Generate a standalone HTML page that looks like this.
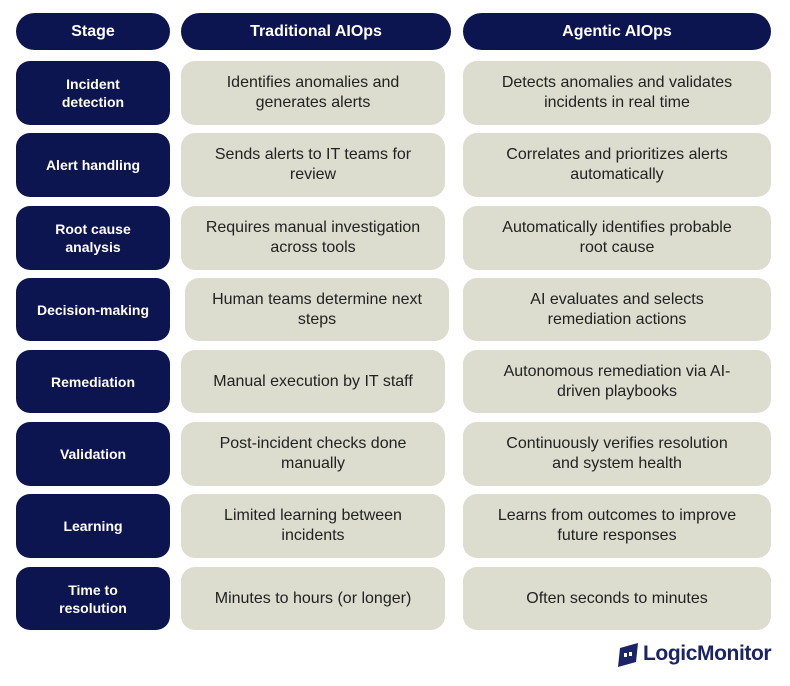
<!DOCTYPE html>
<html><head><meta charset="utf-8"><style>
body{margin:0;width:790px;height:686px;background:#fff;position:relative;font-family:"Liberation Sans",sans-serif;overflow:hidden}
.b{position:absolute;display:flex;align-items:center;justify-content:center;text-align:center;box-sizing:border-box}
.n{background:#0d1550;color:#fff;font-weight:bold;border-radius:14px;font-size:14px;line-height:18px}
.h{border-radius:19px;font-size:16px}
.g{background:#dcdccf;color:#222;border-radius:14px;font-size:16px;line-height:20px;padding:0 4px;white-space:nowrap}
</style></head><body>
<div class="b n h" style="left:16px;top:13px;width:154px;height:37px">Stage</div>
<div class="b n h" style="left:181px;top:13px;width:270px;height:37px">Traditional AIOps</div>
<div class="b n h" style="left:463px;top:13px;width:308px;height:37px">Agentic AIOps</div>

<div class="b n" style="left:16px;top:61px;width:154px;height:64px">Incident<br>detection</div>
<div class="b g" style="left:181px;top:61px;width:264px;height:64px">Identifies anomalies and<br>generates alerts</div>
<div class="b g" style="left:463px;top:61px;width:308px;height:64px">Detects anomalies and validates<br>incidents in real time</div>

<div class="b n" style="left:16px;top:133px;width:154px;height:64px">Alert handling</div>
<div class="b g" style="left:181px;top:133px;width:264px;height:64px">Sends alerts to IT teams for<br>review</div>
<div class="b g" style="left:463px;top:133px;width:308px;height:64px">Correlates and prioritizes alerts<br>automatically</div>

<div class="b n" style="left:16px;top:206px;width:154px;height:64px">Root cause<br>analysis</div>
<div class="b g" style="left:181px;top:206px;width:264px;height:64px">Requires manual investigation<br>across tools</div>
<div class="b g" style="left:463px;top:206px;width:308px;height:64px">Automatically identifies probable<br>root cause</div>

<div class="b n" style="left:16px;top:278px;width:154px;height:63px">Decision-making</div>
<div class="b g" style="left:185px;top:278px;width:264px;height:63px">Human teams determine next<br>steps</div>
<div class="b g" style="left:463px;top:278px;width:308px;height:63px">AI evaluates and selects<br>remediation actions</div>

<div class="b n" style="left:16px;top:350px;width:154px;height:63px">Remediation</div>
<div class="b g" style="left:181px;top:350px;width:264px;height:63px">Manual execution by IT staff</div>
<div class="b g" style="left:463px;top:350px;width:308px;height:63px">Autonomous remediation via AI-<br>driven playbooks</div>

<div class="b n" style="left:16px;top:422px;width:154px;height:64px">Validation</div>
<div class="b g" style="left:181px;top:422px;width:264px;height:64px">Post-incident checks done<br>manually</div>
<div class="b g" style="left:463px;top:422px;width:308px;height:64px">Continuously verifies resolution<br>and system health</div>

<div class="b n" style="left:16px;top:494px;width:154px;height:64px">Learning</div>
<div class="b g" style="left:181px;top:494px;width:264px;height:64px">Limited learning between<br>incidents</div>
<div class="b g" style="left:463px;top:494px;width:308px;height:64px">Learns from outcomes to improve<br>future responses</div>

<div class="b n" style="left:16px;top:567px;width:154px;height:63px">Time to<br>resolution</div>
<div class="b g" style="left:181px;top:567px;width:264px;height:63px">Minutes to hours (or longer)</div>
<div class="b g" style="left:463px;top:567px;width:308px;height:63px">Often seconds to minutes</div>

<svg style="position:absolute;left:616px;top:642px" width="24" height="26" viewBox="0 0 24 26"><path d="M4 6 L22 1 L20 20 L2 25 Z" fill="#1a2466"/><rect x="8" y="11" width="3" height="4" fill="#fff"/><rect x="13" y="10" width="3" height="4" fill="#fff"/></svg>
<div style="position:absolute;left:643px;top:642px;font-size:21px;font-weight:bold;color:#1a2466;letter-spacing:-0.4px">LogicMonitor</div>
</body></html>
